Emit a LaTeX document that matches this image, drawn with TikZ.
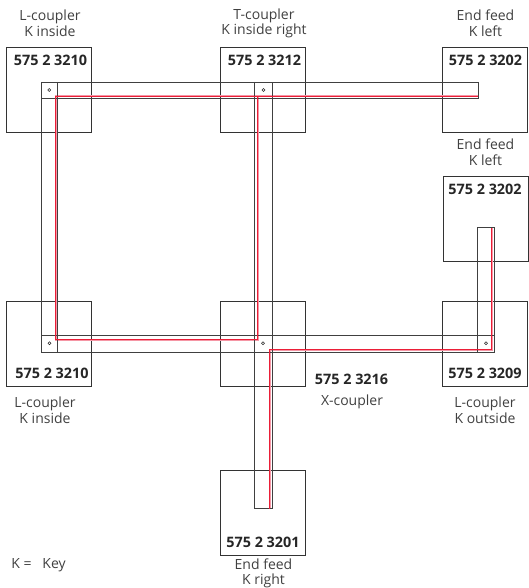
\documentclass[tikz,border=0pt]{standalone}
\usepackage{fontspec}
\setmainfont{Open Sans}
\definecolor{wirered}{RGB}{235,30,55}
\definecolor{wirepink}{RGB}{245,150,165}
\tikzset{
  x=1pt,y=-1pt,
  coupler/.style={draw=black!80,line width=0.8pt,minimum width=85pt,minimum height=85pt,inner sep=0pt,outer sep=0pt},
  rail/.style={draw=black!75,line width=0.8pt},
  wirehalo/.style={draw=wirepink,line width=2pt,line join=miter},
  wire/.style={draw=wirered,line width=1pt,line join=miter},
  hole/.style={draw=black!85,line width=0.6pt,circle,minimum size=3pt,inner sep=0pt},
  partno/.style={font=\fontsize{14.4}{16}\selectfont\bfseries,text=black!85,inner sep=0pt},
  caption/.style={font=\fontsize{14}{15.6}\selectfont,text=black!75,align=center,inner sep=0pt},
}
\begin{document}
\begin{tikzpicture}
\useasboundingbox (0,0) rectangle (528,588);
% coupler boxes
\node[coupler] (tl) at (49,90) {};
\node[coupler] (tm) at (263,90) {};
\node[coupler] (tr) at (485,90) {};
\node[coupler] (mr) at (485.5,219) {};
\node[coupler] (bl) at (49,343.5) {};
\node[coupler] (bm) at (263.3,343.5) {};
\node[coupler] (br) at (485,343.5) {};
\node[coupler] (ef) at (263,512.8) {};
% wire halos
\draw[wirehalo] (478,96.5) -- (55.5,96.5) -- (55.5,339.5) -- (257.5,339.5) -- (257.5,96.5);
\draw[wirehalo] (269.5,508.5) -- (269.5,349.5) -- (491.5,349.5) -- (491.5,228);
% rails
\draw[rail] (41,98.7) -- (41,82) -- (478.5,82) -- (478.5,98.7) -- (41,98.7);
\draw[rail] (41,82) -- (41,352) -- (494.3,352) -- (494.3,227.5) -- (477.3,227.5) -- (477.3,352);
\draw[rail] (57.7,82) -- (57.7,352);
\draw[rail] (41,335.2) -- (494.3,335.2);
\draw[rail] (254.8,82) -- (254.8,508.8) -- (272,508.8) -- (272,82);
% wires
\draw[wire] (478,96.5) -- (55.5,96.5) -- (55.5,339.5) -- (257.5,339.5) -- (257.5,96.5);
\draw[wire] (269.5,508.5) -- (269.5,349.5) -- (491.5,349.5) -- (491.5,228);
% key holes
\node[hole] (h1) at (49.3,90) {};
\node[hole] (h2) at (263.5,90) {};
\node[hole] (h3) at (49.5,343.2) {};
\node[hole] (h4) at (263,343.2) {};
\node[hole] (h5) at (486,343.2) {};
% part numbers
\node[partno] (p1) at (50.5,60.5) {575 2 3210};
\node[partno] (p2) at (264.5,60.5) {575 2 3212};
\node[partno] (p3) at (485.5,60.5) {575 2 3202};
\node[partno] (p4) at (485,189.5) {575 2 3202};
\node[partno] (p5) at (52,373.5) {575 2 3210};
\node[partno] (p6) at (351.5,379) {575 2 3216};
\node[partno] (p7) at (485,373.5) {575 2 3209};
\node[partno] (p8) at (263,542) {575 2 3201};
% captions
\node[caption] (c1) at (50,23.5) {L-coupler\\K inside};
\node[caption] (c2) at (264,23.5) {T-coupler\\K inside right};
\node[caption] (c3) at (485.5,23.5) {End feed\\K left};
\node[caption] (c4) at (485.5,152.5) {End feed\\K left};
\node[caption] (c5) at (45,410) {L-coupler\\K inside};
\node[caption] (c6) at (352,402) {X-coupler};
\node[caption] (c7) at (485,410) {L-coupler\\K outside};
\node[caption] (c8) at (263.5,573.5) {End feed\\K right};
\node[caption] (c9) at (38.5,565) {K =\ \ \ Key};
\end{tikzpicture}
\end{document}
